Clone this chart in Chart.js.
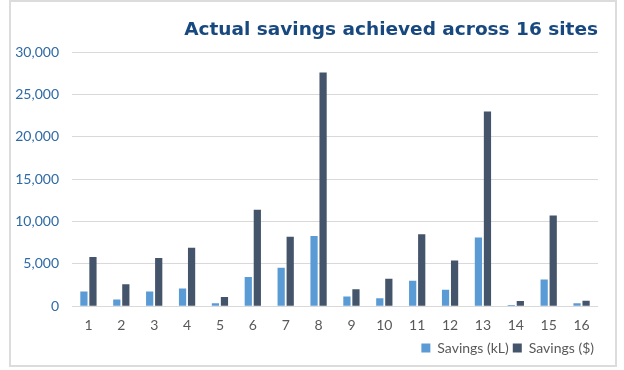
<!DOCTYPE html>
<html lang="en">
<head>
<meta charset="UTF-8">
<title>Actual savings achieved across 16 sites</title>
<script src="https://cdn.jsdelivr.net/npm/chart.js@4.4.1/dist/chart.umd.min.js"></script>
<style>
   body { margin: 0; background: #fff; }
   .chart_box {
      position: absolute; left: 9px; top: 0; width: 608px; height: 367px;
      box-sizing: border-box; border: 2px solid #dcdcdc; background: #fff;
   }
   #savingsChart { display: block; }
</style>
</head>
<body>
<div class="chart_box">
   <canvas id="savingsChart" width="604" height="363"></canvas>
</div>
<script>
   // site numbers on the x axis
   var sites = ['1', '2', '3', '4', '5', '6', '7', '8', '9', '10', '11', '12', '13', '14', '15', '16'];
   // savings in kilolitres
   var savingsKL = [1750, 800, 1750, 2100, 350, 3450, 4550, 8300, 1150, 950, 3000, 1950, 8100, 150, 3150, 350];
   // savings in dollars
   var savingsDollar = [5800, 2600, 5700, 6900, 1100, 11400, 8200, 27600, 2000, 3250, 8500, 5400, 23000, 600, 10700, 650];
   var yTicks = [0, 5000, 10000, 15000, 20000, 25000, 30000];

   var ctx = document.getElementById('savingsChart').getContext('2d');
   var savingsChart = new Chart(ctx, {
      type: 'bar',
      data: {
         labels: sites,
         datasets: [{
            label: 'Savings (kL)',
            data: savingsKL,
            backgroundColor: '#5b9bd5',
            categoryPercentage: 0.55,
            barPercentage: 0.8
         }, {
            label: 'Savings ($)',
            data: savingsDollar,
            backgroundColor: '#44546a',
            categoryPercentage: 0.55,
            barPercentage: 0.8
         }]
      },
      options: {
         responsive: false,
         animation: false,
         layout: { padding: { left: 4, right: 17, top: 4, bottom: 0 } },
         plugins: {
            title: {
               display: true,
               text: 'Actual savings achieved across 16 sites',
               align: 'end',
               color: '#17487f',
               font: { family: 'DejaVu Sans', size: 18.5, weight: 'bold' },
               padding: { top: 13, bottom: 11 }
            },
            legend: {
               position: 'bottom',
               align: 'end',
               labels: {
                  boxWidth: 9,
                  boxHeight: 9,
                  padding: 4,
                  color: '#595959',
                  font: { family: 'Lato', size: 14 }
               }
            },
            tooltip: { enabled: false }
         },
         scales: {
            x: {
               grid: { display: false },
               border: { display: false },
               ticks: {
                  color: '#595959',
                  font: { family: 'Lato', size: 14 },
                  padding: 3
               }
            },
            y: {
               min: 0,
               max: 30000,
               afterBuildTicks: function (axis) {
                  axis.ticks = yTicks.map(function (v) { return { value: v }; });
               },
               afterFit: function (axis) { axis.width = 57; },
               border: { display: false },
               grid: { color: '#d9d9d9', lineWidth: 1, drawTicks: false },
               ticks: {
                  color: '#2f6aa5',
                  padding: 13,
                  font: { family: 'Lato', size: 14 },
                  callback: function (v) { return v.toLocaleString('en-US'); }
               }
            }
         }
      }
   });
</script>
</body>
</html>
